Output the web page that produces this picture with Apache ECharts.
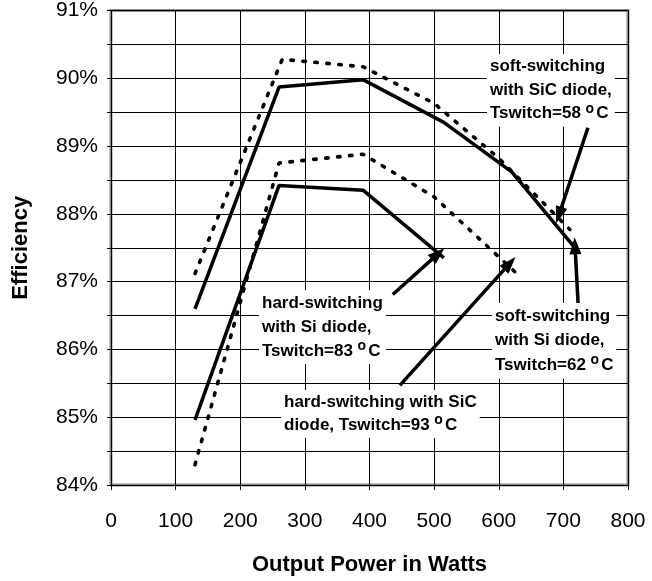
<!DOCTYPE html>
<html>
<head>
<meta charset="utf-8">
<script src="https://cdn.jsdelivr.net/npm/echarts@6/dist/echarts.min.js"></script>
<style>
html,body{margin:0;padding:0;background:#fff;}
#chart{width:652px;height:581px;}
</style>
</head>
<body>
<div id="chart"></div>
<script>
// ---- data (Output power in W, efficiency in %) ----
const softSiC_x = [130, 265, 390, 500, 600, 710];
const softSiC_y = [87.12, 90.28, 90.17, 89.63, 88.82, 87.77];

const softSi_x = [130, 260, 390, 515, 620, 715];
const softSi_y = [86.6, 89.87, 89.98, 89.35, 88.62, 87.53];

const hardSiC_x = [130, 260, 390, 500, 630];
const hardSiC_y = [84.3, 88.75, 88.88, 88.25, 87.1];

const hardSi_x = [130, 260, 390, 515];
const hardSi_y = [84.96, 88.42, 88.35, 87.35];

const xTicks = [0, 100, 200, 300, 400, 500, 600, 700, 800];
const yTickLabels = ['84%', '85%', '86%', '87%', '88%', '89%', '90%', '91%'];

// annotation arrows [fromX, fromY, toX, toY] in data units
const arrowSoftSiC = [738, 89.27, 693, 87.98];
const arrowSoftSi  = [723, 86.64, 718, 87.53];
const arrowHardSi  = [436, 86.81, 506, 87.41];
const arrowHardSiC = [447, 85.47, 617, 87.27];

const FONT = '"Liberation Sans", Arial, sans-serif';

function pairs(xs, ys) { return xs.map((x, i) => [x, ys[i]]); }
function arrow(a) { return [{ coord: [a[0], a[1]] }, { coord: [a[2], a[3]] }]; }

const solid = { color: '#000', width: 3.5, type: 'solid' };
const dotted = { color: '#000', width: 3.6, type: [2.5, 9.5], cap: 'round' };

const rich = {
  a: { fontFamily: FONT, fontSize: 17, fontWeight: 'bold', color: '#000', lineHeight: 24 },
  s: { fontFamily: FONT, fontSize: 14, fontWeight: 'bold', color: '#000', lineHeight: 24, padding: [0, 2, 10, 0] }
};

function note(left, top, text, lh) {
  const r = JSON.parse(JSON.stringify(rich));
  if (lh) { r.a.lineHeight = lh; r.s.lineHeight = lh; }
  return {
    type: 'text', left: left, top: top, z: 100,
    style: { text: text, rich: r, backgroundColor: '#fff', padding: [1, 3, 1, 3] }
  };
}

const chart = echarts.init(document.getElementById('chart'));
chart.setOption({
  animation: false,
  backgroundColor: '#fff',
  grid: { left: 111, right: 24, top: 7, bottom: 96, show: true, borderColor: '#8a8a8a', borderWidth: 3 },
  xAxis: {
    type: 'value', min: xTicks[0], max: xTicks[xTicks.length - 1], interval: 100,
    axisLine: { show: true, lineStyle: { color: '#000', width: 1 } },
    axisTick: { show: true, length: 5, lineStyle: { color: '#000' } },
    axisLabel: { margin: 26, fontFamily: FONT, fontSize: 21, color: '#000' },
    splitLine: { show: true, lineStyle: { color: '#000', width: 1 } },
    name: 'Output Power in Watts', nameLocation: 'middle', nameGap: 69,
    nameTextStyle: { fontFamily: FONT, fontSize: 22, fontWeight: 'bold', color: '#000' }
  },
  yAxis: {
    type: 'value', min: 84, max: 91, interval: 0.5,
    axisLine: { show: true, lineStyle: { color: '#000', width: 1 } },
    axisTick: { show: true, length: 4, lineStyle: { color: '#000' } },
    axisLabel: {
      margin: 13, fontFamily: FONT, fontSize: 21, color: '#000',
      formatter: v => Number.isInteger(v) ? yTickLabels[v - 84] : ''
    },
    splitLine: { show: true, lineStyle: { color: '#000', width: 1 } },
    name: 'Efficiency', nameLocation: 'middle', nameGap: 79,
    nameTextStyle: { fontFamily: FONT, fontSize: 22, fontWeight: 'bold', color: '#000' }
  },
  series: [
    { type: 'line', data: pairs(softSiC_x, softSiC_y), symbol: 'none', lineStyle: dotted, z: 3 },
    { type: 'line', data: pairs(softSi_x, softSi_y), symbol: 'none', lineStyle: solid, z: 3 },
    { type: 'line', data: pairs(hardSiC_x, hardSiC_y), symbol: 'none', lineStyle: dotted, z: 3 },
    { type: 'line', data: pairs(hardSi_x, hardSi_y), symbol: 'none', lineStyle: solid, z: 3,
      markLine: {
        silent: true, symbol: ['none', 'triangle'], symbolSize: [12, 17],
        lineStyle: { color: '#000', width: 3.5, type: 'solid' },
        label: { show: false }, z: 50,
        data: [arrow(arrowSoftSiC), arrow(arrowSoftSi), arrow(arrowHardSi), arrow(arrowHardSiC)]
      }
    }
  ],
  graphic: [
    note(487, 54, '{a|soft-switching}\n{a|with SiC diode,}\n{a|Tswitch=58 }{s|o}{a|C}', 23.5),
    note(259, 290, '{a|hard-switching}\n{a|with Si diode,}\n{a|Tswitch=83 }{s|o}{a|C}', 24),
    note(281, 390, '{a|hard-switching with SiC}\n{a|diode, Tswitch=93 }{s|o}{a|C}', 23),
    note(492, 303, '{a|soft-switching}\n{a|with Si diode,}\n{a|Tswitch=62 }{s|o}{a|C}', 24.5)
  ]
});
</script>
</body>
</html>
